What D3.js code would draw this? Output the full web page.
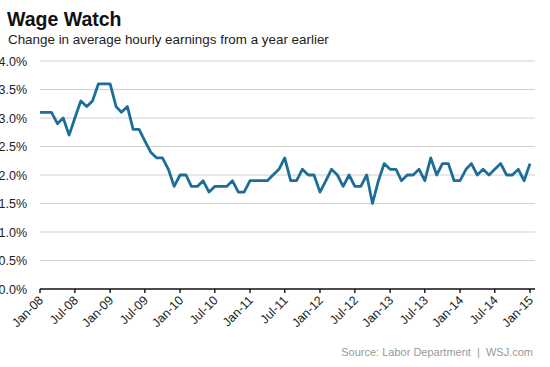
<!DOCTYPE html>
<html>
<head>
<meta charset="utf-8">
<script src="https://cdn.jsdelivr.net/npm/d3@7"></script>
<style>
  body { margin: 0; background: #fff; }
  svg { display: block; font-family: "Liberation Sans", Arial, sans-serif; }
</style>
</head>
<body>
<svg id="chart" width="550" height="367"></svg>
<script>
// year-over-year % change, monthly Jan-08 .. Jan-15
const y2008 = [3.1, 3.1, 3.1, 2.9, 3.0, 2.7, 3.0, 3.3, 3.2, 3.3, 3.6, 3.6];
const y2009 = [3.6, 3.2, 3.1, 3.2, 2.8, 2.8, 2.6, 2.4, 2.3, 2.3, 2.1, 1.8];
const y2010 = [2.0, 2.0, 1.8, 1.8, 1.9, 1.7, 1.8, 1.8, 1.8, 1.9, 1.7, 1.7];
const y2011 = [1.9, 1.9, 1.9, 1.9, 2.0, 2.1, 2.3, 1.9, 1.9, 2.1, 2.0, 2.0];
const y2012 = [1.7, 1.9, 2.1, 2.0, 1.8, 2.0, 1.8, 1.8, 2.0, 1.5, 1.9, 2.2];
const y2013 = [2.1, 2.1, 1.9, 2.0, 2.0, 2.1, 1.9, 2.3, 2.0, 2.2, 2.2, 1.9];
const y2014 = [1.9, 2.1, 2.2, 2.0, 2.1, 2.0, 2.1, 2.2, 2.0, 2.0, 2.1, 1.9];
const y2015 = [2.2];

const yTicks = [0, 0.5, 1.0, 1.5, 2.0, 2.5, 3.0, 3.5, 4.0];
const xTickLabels = ["Jan-08", "Jul-08", "Jan-09", "Jul-09", "Jan-10", "Jul-10", "Jan-11",
  "Jul-11", "Jan-12", "Jul-12", "Jan-13", "Jul-13", "Jan-14", "Jul-14", "Jan-15"];

const values = [].concat(y2008, y2009, y2010, y2011, y2012, y2013, y2014, y2015);
const data = values.map((v, i) => ({ date: new Date(2008, i, 1), v }));

const svg = d3.select("#chart");

const x = d3.scaleTime()
  .domain([new Date(2008, 0, 1), new Date(2015, 0, 1)])
  .range([40, 530]);
const y = d3.scaleLinear().domain([0, 4]).range([289, 61]);

// titles
svg.append("text").attr("x", 7).attr("y", 26)
  .attr("font-size", 19.5).attr("font-weight", "bold").attr("fill", "#111")
  .text("Wage Watch");
svg.append("text").attr("x", 8).attr("y", 44)
  .attr("font-size", 13.4).attr("fill", "#222")
  .text("Change in average hourly earnings from a year earlier");

// grid
svg.append("g").selectAll("line")
  .data(yTicks.filter(d => d > 0))
  .join("line")
  .attr("x1", 40).attr("x2", 535)
  .attr("y1", d => y(d)).attr("y2", d => y(d))
  .attr("stroke", "#d0d0d0").attr("stroke-width", 1.2);

// y labels
svg.append("g").selectAll("text")
  .data(yTicks)
  .join("text")
  .attr("x", 27).attr("y", d => y(d) + 4.5)
  .attr("text-anchor", "end")
  .attr("font-size", 12.5).attr("fill", "#222")
  .text(d => d.toFixed(1) + "%");

// x axis
const tickDates = xTickLabels.map((_, i) => new Date(2008, i * 6, 1));
const xAxis = svg.append("g");
xAxis.append("line")
  .attr("x1", 40).attr("x2", 535)
  .attr("y1", y(0)).attr("y2", y(0))
  .attr("stroke", "#111").attr("stroke-width", 1.6);
xAxis.selectAll("line.tick")
  .data(tickDates)
  .join("line")
  .attr("class", "tick")
  .attr("x1", d => x(d)).attr("x2", d => x(d))
  .attr("y1", y(0)).attr("y2", y(0) + 4)
  .attr("stroke", "#111").attr("stroke-width", 1.4);
xAxis.selectAll("text")
  .data(tickDates)
  .join("text")
  .attr("transform", d => `translate(${x(d) + 4},${y(0) + 12}) rotate(-45)`)
  .attr("text-anchor", "end")
  .attr("font-size", 12.5).attr("fill", "#222")
  .text((d, i) => xTickLabels[i]);

// line
svg.append("path")
  .datum(data)
  .attr("fill", "none")
  .attr("stroke", "#1c6e98")
  .attr("stroke-width", 2.8)
  .attr("stroke-linejoin", "round")
  .attr("d", d3.line().x(d => x(d.date)).y(d => y(d.v)));

// source
svg.append("text").attr("x", 533).attr("y", 356)
  .attr("text-anchor", "end")
  .attr("font-size", 11).attr("fill", "#999")
  .attr("xml:space", "preserve")
  .text("Source: Labor Department  |  WSJ.com");
</script>
</body>
</html>
